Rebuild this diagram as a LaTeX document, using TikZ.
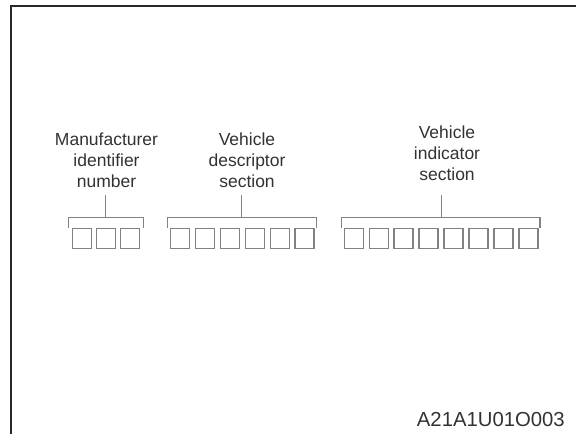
\documentclass[tikz,border=0pt]{standalone}
\usepackage{fontspec}
\setmainfont{Liberation Sans}
\definecolor{boxgray}{RGB}{130,130,130}
\definecolor{txtgray}{RGB}{50,50,50}
\definecolor{framegray}{RGB}{40,40,40}
\begin{document}
\begin{tikzpicture}[x=1pt,y=-1pt,
  cell/.style={draw=boxgray, line width=1.5pt, minimum width=19pt, minimum height=20pt, inner sep=0pt},
  brk/.style={draw=boxgray, line width=1.5pt},
  lbl/.style={align=center, text=txtgray, inner sep=0pt, font=\fontsize{17.5}{21}\selectfont, anchor=north},
  codelbl/.style={text=txtgray, inner sep=0pt, font=\fontsize{20.3}{24}\selectfont, anchor=base east},
  frameline/.style={draw=framegray, line width=2.6pt}]
\useasboundingbox (0,0) rectangle (576,434);
% frame
\coordinate (frR) at (576,6);
\coordinate (frC) at (11,6);
\coordinate (frB) at (11,434);
\draw[frameline] (frR) -- (frC) -- (frB);
% group 1
\foreach \k in {0,1,2} {\node[cell] (ga\k) at ({81.8+24.2*\k},238.3) {};}
\coordinate (gaL) at (68.7,227.5);
\coordinate (gaLT) at (68.7,217.3);
\coordinate (gaRT) at (143.3,217.3);
\coordinate (gaR) at (143.3,227.5);
\coordinate (gaM) at (105.7,217.3);
\coordinate (gaS) at (105.7,195);
\draw[brk] (gaL) -- (gaLT) -- (gaRT) -- (gaR);
\draw[brk] (gaS) -- (gaM);
\node[lbl] (la) at (106.5,132.5) {Manufacturer\\identifier\\number};
% group 2
\foreach \k in {0,...,5} {\node[cell] (gb\k) at ({180.2+24.9*\k},238.3) {};}
\coordinate (gbL) at (167.3,227.5);
\coordinate (gbLT) at (167.3,217.3);
\coordinate (gbRT) at (316.7,217.3);
\coordinate (gbR) at (316.7,227.5);
\coordinate (gbM) at (241.7,217.3);
\coordinate (gbS) at (241.7,195);
\draw[brk] (gbL) -- (gbLT) -- (gbRT) -- (gbR);
\draw[brk] (gbS) -- (gbM);
\node[lbl] (lb) at (247,132.5) {Vehicle\\descriptor\\section};
% group 3
\foreach \k in {0,...,7} {\node[cell] (gc\k) at ({353.8+24.96*\k},238.3) {};}
\coordinate (gcL) at (341.7,227.5);
\coordinate (gcLT) at (341.7,217.3);
\coordinate (gcRT) at (540,217.3);
\coordinate (gcR) at (540,227.5);
\coordinate (gcM) at (441.7,217.3);
\coordinate (gcS) at (441.7,195);
\draw[brk] (gcL) -- (gcLT) -- (gcRT) -- (gcR);
\draw[brk] (gcS) -- (gcM);
\node[lbl] (lc) at (447,126) {Vehicle\\indicator\\section};
% code
\node[codelbl] (code) at (565,426.5) {A21A1U01O003};
\end{tikzpicture}
\end{document}
